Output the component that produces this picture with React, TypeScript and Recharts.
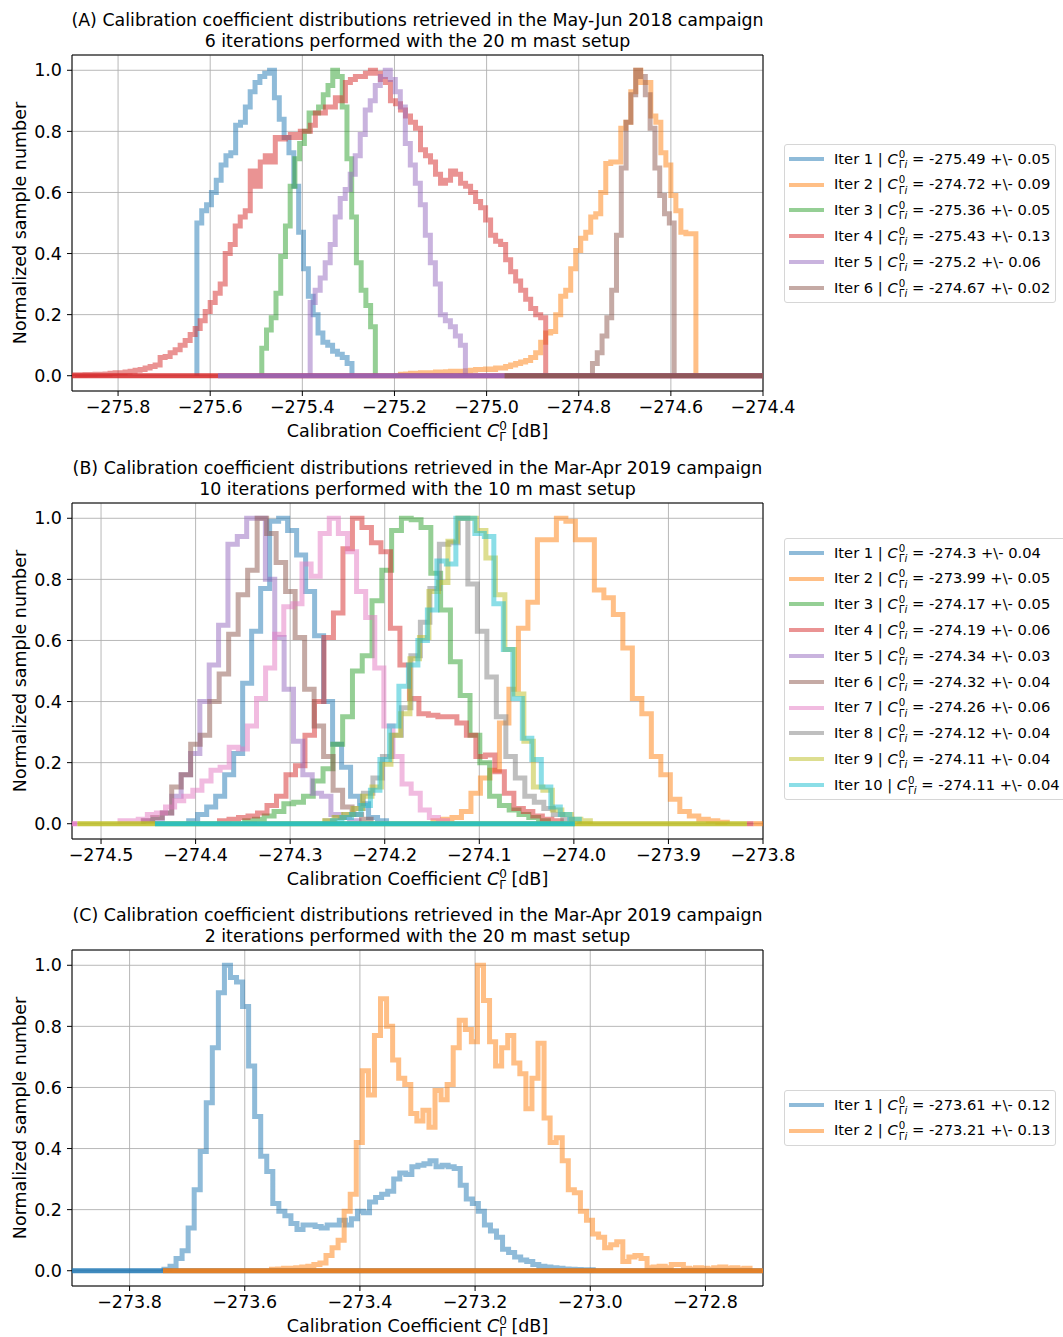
import React from "react";
import { LineChart, Line, XAxis, YAxis, CartesianGrid, ReferenceArea } from "recharts";

const COLORS = ["#1f77b4", "#ff7f0e", "#2ca02c", "#d62728", "#9467bd", "#8c564b", "#e377c2", "#7f7f7f", "#bcbd22", "#17becf"];
const yTicks = [0, 0.2, 0.4, 0.6, 0.8, 1];

// ---- (A) May-Jun 2018, 20 m mast ----
const aTitle = [
  "(A) Calibration coefficient distributions retrieved in the May-Jun 2018 campaign",
  "6 iterations performed with the 20 m mast setup",
];
const aDomain = [-275.9, -274.4];
const aTicks = [-275.8, -275.6, -275.4, -275.2, -275.0, -274.8, -274.6, -274.4];
const aMeans = [-275.49, -274.72, -275.36, -275.43, -275.2, -274.67];
const aStds = [0.05, 0.09, 0.05, 0.13, 0.06, 0.02];
const aStarts = [-275.6289, -275.187, -275.488, -275.8935, -275.383, -274.7702];
const aWidths = [0.01052, 0.01087, 0.01027, 0.01087, 0.01087, 0.01043];
const aIter1 = [0.5, 0.54, 0.56, 0.6, 0.64, 0.69, 0.72, 0.73, 0.82, 0.83, 0.88, 0.93, 0.96, 0.98, 0.99, 1.0, 0.91, 0.84, 0.78, 0.73, 0.62, 0.47, 0.35, 0.26, 0.2, 0.14, 0.11, 0.1, 0.08, 0.07, 0.06, 0.04];
const aIter2 = [0.005, 0.006, 0.008, 0.008, 0.01, 0.01, 0.01, 0.012, 0.012, 0.013, 0.015, 0.015, 0.014, 0.016, 0.018, 0.02,
  0.02, 0.022, 0.02, 0.025, 0.025, 0.03, 0.035, 0.04,
  0.045, 0.05, 0.06, 0.075, 0.11, 0.14, 0.145, 0.2, 0.26, 0.28, 0.35, 0.41, 0.45, 0.47, 0.52, 0.53, 0.6, 0.695, 0.7, 0.7,
  0.81, 0.83, 0.93, 1.0, 0.96, 0.96, 0.85, 0.83, 0.73, 0.69, 0.59, 0.54, 0.47, 0.465, 0.465];
const aIter3 = [0.09, 0.15, 0.19, 0.27, 0.39, 0.49, 0.62, 0.71, 0.76, 0.8, 0.86, 0.86, 0.88, 0.92, 0.95, 1.0, 0.98, 0.88, 0.71, 0.52, 0.37, 0.28, 0.23, 0.16];
const aIter4 = [0.003, 0.003, 0.004, 0.004, 0.005, 0.005, 0.006, 0.008, 0.01, 0.01, 0.012,
  0.015, 0.018, 0.02, 0.025, 0.03, 0.035, 0.06, 0.063, 0.075, 0.085, 0.1, 0.115, 0.135, 0.155, 0.18, 0.21, 0.24, 0.27, 0.3,
  0.4, 0.43, 0.49, 0.52, 0.54, 0.67, 0.62, 0.7, 0.72, 0.7, 0.78, 0.775, 0.78, 0.79, 0.78, 0.8, 0.8, 0.82, 0.86, 0.86,
  0.88, 0.88, 0.91, 0.9, 0.96, 0.97, 0.98, 0.98, 0.99, 1.0, 0.99, 0.97, 0.96, 0.9, 0.89,
  0.87, 0.85, 0.83, 0.81, 0.74, 0.72, 0.7, 0.66, 0.63, 0.64, 0.67, 0.66, 0.63, 0.62, 0.6, 0.57, 0.55, 0.51, 0.46, 0.44,
  0.43, 0.38, 0.34, 0.31, 0.28, 0.25, 0.22, 0.2, 0.19];
const aIter5 = [0.24, 0.28, 0.32, 0.37, 0.43, 0.52, 0.58, 0.61, 0.66, 0.72, 0.79, 0.87, 0.9, 0.95, 0.98, 1.0, 0.97, 0.93, 0.88, 0.76, 0.69, 0.63, 0.56, 0.46, 0.37, 0.3, 0.2, 0.18, 0.16, 0.13, 0.1];
const aIter6 = [0.04, 0.075, 0.13, 0.19, 0.28, 0.46, 0.68, 0.83, 0.92, 1.0, 0.98, 0.92, 0.81, 0.68, 0.59, 0.53, 0.5];
const aCounts = [aIter1, aIter2, aIter3, aIter4, aIter5, aIter6];
const aZeroIter = [3, 4, 5];
const aZeroFrom = [-275.9, -275.583, -274.961];
const aZeroTo = [-274.4, -274.4, -274.4];
const aZeroOpacity = [0.85, 0.85, 0.85];

// ---- (B) Mar-Apr 2019, 10 m mast ----
const bTitle = [
  "(B) Calibration coefficient distributions retrieved in the Mar-Apr 2019 campaign",
  "10 iterations performed with the 10 m mast setup",
];
const bDomain = [-274.5307, -273.8];
const bTicks = [-274.5, -274.4, -274.3, -274.2, -274.1, -274.0, -273.9, -273.8];
const bMeans = [-274.3, -273.99, -274.17, -274.19, -274.34, -274.32, -274.26, -274.12, -274.11, -274.11];
const bStds = [0.04, 0.05, 0.05, 0.06, 0.03, 0.04, 0.06, 0.04, 0.04, 0.04];
const bStarts = [-274.4073, -274.149, -274.3481, -274.3747, -274.4549, -274.4554, -274.4799, -274.2627, -274.2637, -274.2553];
const bWidths = [0.00951, 0.01004, 0.01036, 0.01004, 0.0099, 0.01004, 0.00962, 0.01004, 0.01004, 0.01004];
const bIter1 = [0.01, 0.03, 0.055, 0.09, 0.16, 0.23, 0.46, 0.63, 0.77, 0.99, 1.0, 0.96, 0.88, 0.76, 0.615, 0.4, 0.26, 0.185, 0.09, 0.065, 0.02, 0.01];
const bIter2 = [0.01, 0.015, 0.02, 0.04, 0.1, 0.15, 0.175, 0.33, 0.44, 0.64, 0.725, 0.93, 0.93, 1.0, 0.99, 0.93, 0.93, 0.765, 0.74, 0.685, 0.575, 0.41, 0.36, 0.22, 0.16, 0.08, 0.04, 0.025, 0.015, 0.01, 0.005];
const bIter3 = [0.01, 0.015, 0.025, 0.04, 0.065, 0.07, 0.09, 0.14, 0.18, 0.26, 0.35, 0.5, 0.55, 0.73, 0.83, 0.96, 1.0, 0.995, 0.97, 0.82, 0.7, 0.53, 0.42, 0.29, 0.2, 0.09, 0.06, 0.045, 0.03, 0.02, 0.01];
const bIter4 = [0.01, 0.015, 0.02, 0.025, 0.035, 0.06, 0.09, 0.16, 0.19, 0.29, 0.4, 0.61, 0.69, 0.9, 1.0, 0.97, 0.92, 0.89, 0.64, 0.52, 0.41, 0.36, 0.355, 0.35, 0.35, 0.33, 0.29, 0.22, 0.225, 0.17, 0.1, 0.05, 0.04, 0.025, 0.015, 0.01];
const bIter5 = [0.01, 0.015, 0.035, 0.09, 0.16, 0.23, 0.4, 0.52, 0.65, 0.915, 0.94, 1.0, 1.0, 0.8, 0.61, 0.44, 0.27, 0.16, 0.1, 0.09, 0.03, 0.02, 0.01];
const bIter6 = [0.01, 0.02, 0.035, 0.12, 0.16, 0.26, 0.29, 0.4, 0.49, 0.62, 0.75, 0.83, 1.0, 0.95, 0.855, 0.76, 0.61, 0.44, 0.32, 0.22, 0.11, 0.055, 0.03, 0.015];
const bIter7 = [0.01, 0.01, 0.015, 0.03, 0.035, 0.055, 0.075, 0.09, 0.11, 0.14, 0.175, 0.185, 0.25, 0.245, 0.32, 0.41, 0.51, 0.62, 0.71, 0.72, 0.85, 0.81, 0.95, 1.0, 0.95, 0.89, 0.76, 0.675, 0.51, 0.32, 0.22, 0.13, 0.1, 0.045, 0.02, 0.01];
const bIter8 = [0.01, 0.02, 0.03, 0.05, 0.1, 0.15, 0.22, 0.29, 0.38, 0.55, 0.66, 0.77, 0.915, 0.92, 1.0, 0.785, 0.63, 0.48, 0.35, 0.22, 0.15, 0.09, 0.07, 0.05, 0.03, 0.015];
const bIter9 = [0.01, 0.02, 0.03, 0.05, 0.09, 0.12, 0.195, 0.29, 0.36, 0.54, 0.61, 0.76, 0.79, 0.925, 1.0, 1.0, 0.96, 0.87, 0.75, 0.57, 0.425, 0.27, 0.12, 0.11, 0.045, 0.03, 0.015, 0.01];
const bIter10 = [0.01, 0.02, 0.03, 0.06, 0.11, 0.21, 0.32, 0.45, 0.52, 0.6, 0.7, 0.86, 0.85, 1.0, 1.0, 0.95, 0.94, 0.72, 0.57, 0.41, 0.28, 0.21, 0.12, 0.055, 0.03, 0.015];
const bCounts = [bIter1, bIter2, bIter3, bIter4, bIter5, bIter6, bIter7, bIter8, bIter9, bIter10];
const bZeroIter = [6, 8, 9, 3, 1];
const bZeroFrom = [-274.5307, -274.525, -274.443, -273.817, -273.81];
const bZeroTo = [-274.525, -273.817, -273.999, -273.81, -273.8];
const bZeroOpacity = [0.85, 0.85, 0.85, 0.6, 0.6];

// ---- (C) Mar-Apr 2019, 20 m mast ----
const cTitle = [
  "(C) Calibration coefficient distributions retrieved in the Mar-Apr 2019 campaign",
  "2 iterations performed with the 20 m mast setup",
];
const cDomain = [-273.9, -272.7];
const cTicks = [-273.8, -273.6, -273.4, -273.2, -273.0, -272.8];
const cMeans = [-273.61, -273.21];
const cStds = [0.12, 0.13];
const cStarts = [-273.7403, -273.5536];
const cWidths = [0.0105, 0.01052];
const cIter1 = [0.005, 0.015, 0.04, 0.065, 0.14, 0.265, 0.39, 0.55, 0.73, 0.91,
  1.0, 0.96, 0.945, 0.865, 0.67, 0.505, 0.375, 0.325, 0.22, 0.195, 0.18, 0.155, 0.135, 0.15, 0.15, 0.145, 0.14, 0.15, 0.15,
  0.165, 0.15, 0.17, 0.195, 0.19, 0.225, 0.24, 0.25, 0.26, 0.3, 0.32, 0.315, 0.34, 0.345, 0.35, 0.36, 0.34, 0.345, 0.34,
  0.335, 0.28, 0.235, 0.22, 0.195, 0.15, 0.13, 0.11, 0.07, 0.06, 0.045, 0.035, 0.03, 0.02, 0.015,
  0.012, 0.01, 0.008, 0.006, 0.005, 0.004, 0.003, 0.003];
const cIter2 = [0.005, 0.006, 0.008, 0.008, 0.01, 0.012, 0.015, 0.02,
  0.025, 0.05, 0.075, 0.1, 0.195, 0.25, 0.42, 0.655, 0.575, 0.77, 0.89, 0.8, 0.69, 0.63, 0.61, 0.515, 0.49, 0.525, 0.47,
  0.59, 0.56, 0.61, 0.73, 0.82, 0.79, 0.75, 1.0, 0.885, 0.75, 0.67, 0.73, 0.77, 0.68, 0.645, 0.53, 0.63, 0.745, 0.5, 0.42,
  0.435, 0.36, 0.265, 0.255, 0.195, 0.165, 0.12, 0.11, 0.075, 0.085, 0.095, 0.03, 0.045, 0.05, 0.04, 0.01, 0.012, 0.015,
  0.01, 0.02, 0.02, 0.008, 0.006, 0.01, 0.008, 0.006, 0.01, 0.012, 0.008, 0.01, 0.006, 0.008];
const cCounts = [cIter1, cIter2];
const cZeroIter = [0, 1];
const cZeroFrom = [-273.9, -273.742];
const cZeroTo = [-272.7, -272.7];
const cZeroOpacity = [0.85, 0.85];

const FONT = "'DejaVu Sans', sans-serif";
const AXIS_FS = 17.5;

function histPoints(start: number, width: number, counts: number[]) {
  const pts = [{ x: start, y: 0 }];
  counts.forEach((c, i) => pts.push({ x: start + i * width, y: c }));
  pts.push({ x: start + counts.length * width, y: 0 });
  return pts;
}

const fmtX = (v: number) => v.toFixed(1).replace("-", "\u2212");

const XLabel = (props: any) => {
  const vb = props.viewBox || { x: 72, y: 391, width: 691 };
  const cx = vb.x + vb.width / 2;
  return (
    <text x={cx} y={vb.y + 46} textAnchor="middle" fontSize={AXIS_FS} fill="#000" fontFamily={FONT}>
      Calibration Coefficient <tspan fontStyle="italic">C</tspan>
      <tspan dy={-7} fontSize={12}>0</tspan>
      <tspan dx={-7.6} dy={10.5} fontSize={12}>Γ</tspan>
      <tspan dy={-3.5}> [dB]</tspan>
    </text>
  );
};

const YLabel = (props: any) => {
  const vb = props.viewBox || { x: 0, y: 55, width: 72, height: 336 };
  const cx = vb.x + 20;
  const cy = vb.y + vb.height / 2;
  return (
    <text x={cx} y={cy} transform={`rotate(-90, ${cx}, ${cy})`} textAnchor="middle" dominantBaseline="central" fontSize={AXIS_FS} fill="#000" fontFamily={FONT}>
      Normalized sample number
    </text>
  );
};

const LegendBox = ({ means, stds, top }: { means: number[]; stds: number[]; top: number }) => (
  <div
    style={{
      position: "absolute",
      left: 784,
      top,
      border: "1px solid #d6d6d6",
      borderRadius: 3,
      padding: "1px 5px 1px 4px",
      background: "#fff",
      fontFamily: FONT,
      fontSize: 14.7,
      color: "#000",
      whiteSpace: "nowrap",
    }}
  >
    {means.map((m, i) => (
      <div key={i} style={{ display: "flex", alignItems: "center", height: 25.8 }}>
        <span style={{ display: "inline-block", width: 35, height: 4, background: COLORS[i], opacity: 0.5, marginRight: 10 }} />
        <span>
          Iter {i + 1} | <i>C</i>
          <span style={{ display: "inline-block", verticalAlign: "-4px", fontSize: "0.7em", lineHeight: 1, marginLeft: 1 }}>
            <span style={{ display: "block" }}>0</span>
            <span style={{ display: "block" }}>Γ<i>i</i></span>
          </span>
          {` = ${m} +\\- ${stds[i]}`}
        </span>
      </div>
    ))}
  </div>
);

const Panel = (p: {
  top: number; height: number; plotTop: number; title: string[]; domain: number[]; ticks: number[];
  starts: number[]; widths: number[]; counts: number[][]; means: number[]; stds: number[];
  zeroIter: number[]; zeroFrom: number[]; zeroTo: number[]; zeroOpacity: number[]; legendTop: number;
}) => {
  const xAxisHeight = p.height - p.plotTop - 336;
  return (
    <div style={{ position: "absolute", left: 0, top: p.top, width: 1063, height: p.height }}>
      <div style={{ position: "absolute", left: 52, width: 731, top: p.plotTop - 45, textAlign: "center", fontFamily: FONT, fontSize: 17.4, lineHeight: "20.5px", color: "#000" }}>
        {p.title[0]}
        <br />
        {p.title[1]}
      </div>
      <LineChart width={1063} height={p.height} margin={{ top: p.plotTop, right: 300, left: 0, bottom: 0 }} style={{ fontFamily: FONT }}>
        <CartesianGrid stroke="#b0b0b0" strokeWidth={0.9} />
        <XAxis
          type="number"
          dataKey="x"
          domain={p.domain}
          ticks={p.ticks}
          allowDataOverflow
          tickFormatter={fmtX}
          height={xAxisHeight}
          tickSize={5}
          tickMargin={5}
          axisLine={false}
          tickLine={{ stroke: "#000" }}
          tick={{ fill: "#000", fontSize: AXIS_FS }}
          label={<XLabel />}
        />
        <YAxis
          type="number"
          domain={[-0.05, 1.05]}
          ticks={yTicks}
          allowDataOverflow
          tickFormatter={(v: number) => v.toFixed(1)}
          width={72}
          tickSize={5}
          tickMargin={5}
          axisLine={false}
          tickLine={{ stroke: "#000" }}
          tick={{ fill: "#000", fontSize: AXIS_FS }}
          label={<YLabel />}
        />
        {p.counts.map((c, i) => (
          <Line
            key={`s${i}`}
            name={`Iter ${i + 1}`}
            data={histPoints(p.starts[i], p.widths[i], c)}
            dataKey="y"
            type="stepAfter"
            stroke={COLORS[i]}
            strokeOpacity={0.5}
            strokeWidth={5}
            dot={false}
            activeDot={false}
            isAnimationActive={false}
          />
        ))}
        {p.zeroIter.map((it, j) => (
          <Line
            key={`z${j}`}
            data={[{ x: p.zeroFrom[j], y: 0 }, { x: p.zeroTo[j], y: 0 }]}
            dataKey="y"
            type="linear"
            stroke={COLORS[it]}
            strokeOpacity={p.zeroOpacity[j]}
            strokeWidth={5}
            dot={false}
            activeDot={false}
            isAnimationActive={false}
          />
        ))}
        <ReferenceArea x1={p.domain[0]} x2={p.domain[1]} y1={-0.05} y2={1.05} fill="none" stroke="#000" strokeWidth={1} />
      </LineChart>
      <LegendBox means={p.means} stds={p.stds} top={p.legendTop} />
    </div>
  );
};

export default function App() {
  return (
    <div style={{ position: "absolute", left: 0, top: 0, width: 1063, height: 1337, background: "#fff", overflow: "hidden" }}>
      <Panel top={0} height={447} plotTop={55} title={aTitle} domain={aDomain} ticks={aTicks} starts={aStarts} widths={aWidths}
        counts={aCounts} means={aMeans} stds={aStds} zeroIter={aZeroIter} zeroFrom={aZeroFrom} zeroTo={aZeroTo} zeroOpacity={aZeroOpacity} legendTop={144} />
      <Panel top={447} height={447} plotTop={56} title={bTitle} domain={bDomain} ticks={bTicks} starts={bStarts} widths={bWidths}
        counts={bCounts} means={bMeans} stds={bStds} zeroIter={bZeroIter} zeroFrom={bZeroFrom} zeroTo={bZeroTo} zeroOpacity={bZeroOpacity} legendTop={91} />
      <Panel top={894} height={443} plotTop={56} title={cTitle} domain={cDomain} ticks={cTicks} starts={cStarts} widths={cWidths}
        counts={cCounts} means={cMeans} stds={cStds} zeroIter={cZeroIter} zeroFrom={cZeroFrom} zeroTo={cZeroTo} zeroOpacity={cZeroOpacity} legendTop={196} />
    </div>
  );
}
